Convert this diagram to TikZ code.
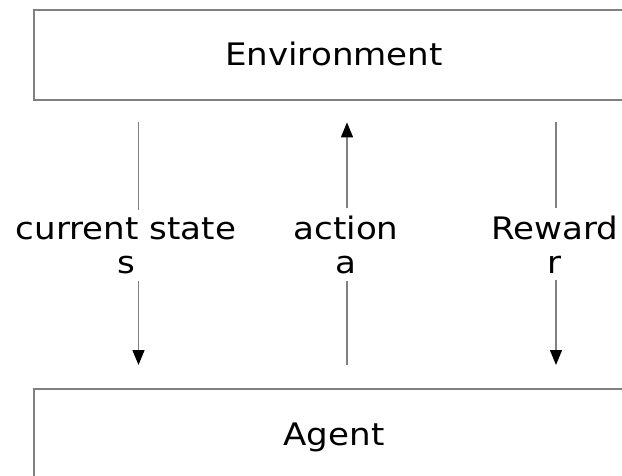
\documentclass[tikz,border=0pt]{standalone}
\usepackage{fontspec}
\setmainfont[FakeStretch=1.1]{DejaVu Sans}
\usetikzlibrary{arrows.meta}
\definecolor{edge}{gray}{0.5}
\begin{document}
\begin{tikzpicture}[x=1pt,y=-1pt,
  box/.style={draw=edge, line width=1.4pt, minimum width=600pt,
    minimum height=90pt, inner sep=0pt, text height=22pt, text depth=0pt,
    font=\fontsize{31}{34}\selectfont},
  lbl/.style={align=center, inner xsep=0pt, inner ysep=7pt,
    font=\fontsize{31}{34}\selectfont},
  link/.style={draw=edge, line width=1.4pt},
  tip/.style={-{Triangle[length=15pt,width=12pt,color=black]}}]
\useasboundingbox (0,0) rectangle (622,476);
\clip (0,0) rectangle (622,476);

% the two blocks
\node[box] (env) at (334,55) {Environment};
\node[box] (agent) at (334,434) {Agent};

% labels of the three signals (base = baseline of the second line)
\node[lbl, anchor=base] (cs) at (126,273) {current state\\s};
\node[lbl, anchor=base] (act) at (346,273) {action\\a};
\node[lbl, anchor=base] (rew) at (555,273) {Reward\\r};

% x positions of the signal lines
\coordinate (csx) at (138.5,0);
\coordinate (actx) at (347,0);
\coordinate (rewx) at (556,0);

% state: environment -> agent
\draw[link, shorten <=21.7pt] (env.south -| csx) -- (csx |- cs.north);
\draw[link, tip, shorten >=23.3pt] (csx |- cs.south) -- (agent.north -| csx);

% action: agent -> environment
\draw[link, shorten <=23pt] (agent.north -| actx) -- (actx |- act.south);
\draw[link, tip, shorten >=21.7pt] (actx |- act.north) -- (env.south -| actx);

% reward: environment -> agent
\draw[link, shorten <=21.7pt] (env.south -| rewx) -- (rewx |- rew.north);
\draw[link, tip, shorten >=23.3pt] (rewx |- rew.south) -- (agent.north -| rewx);
\end{tikzpicture}
\end{document}
